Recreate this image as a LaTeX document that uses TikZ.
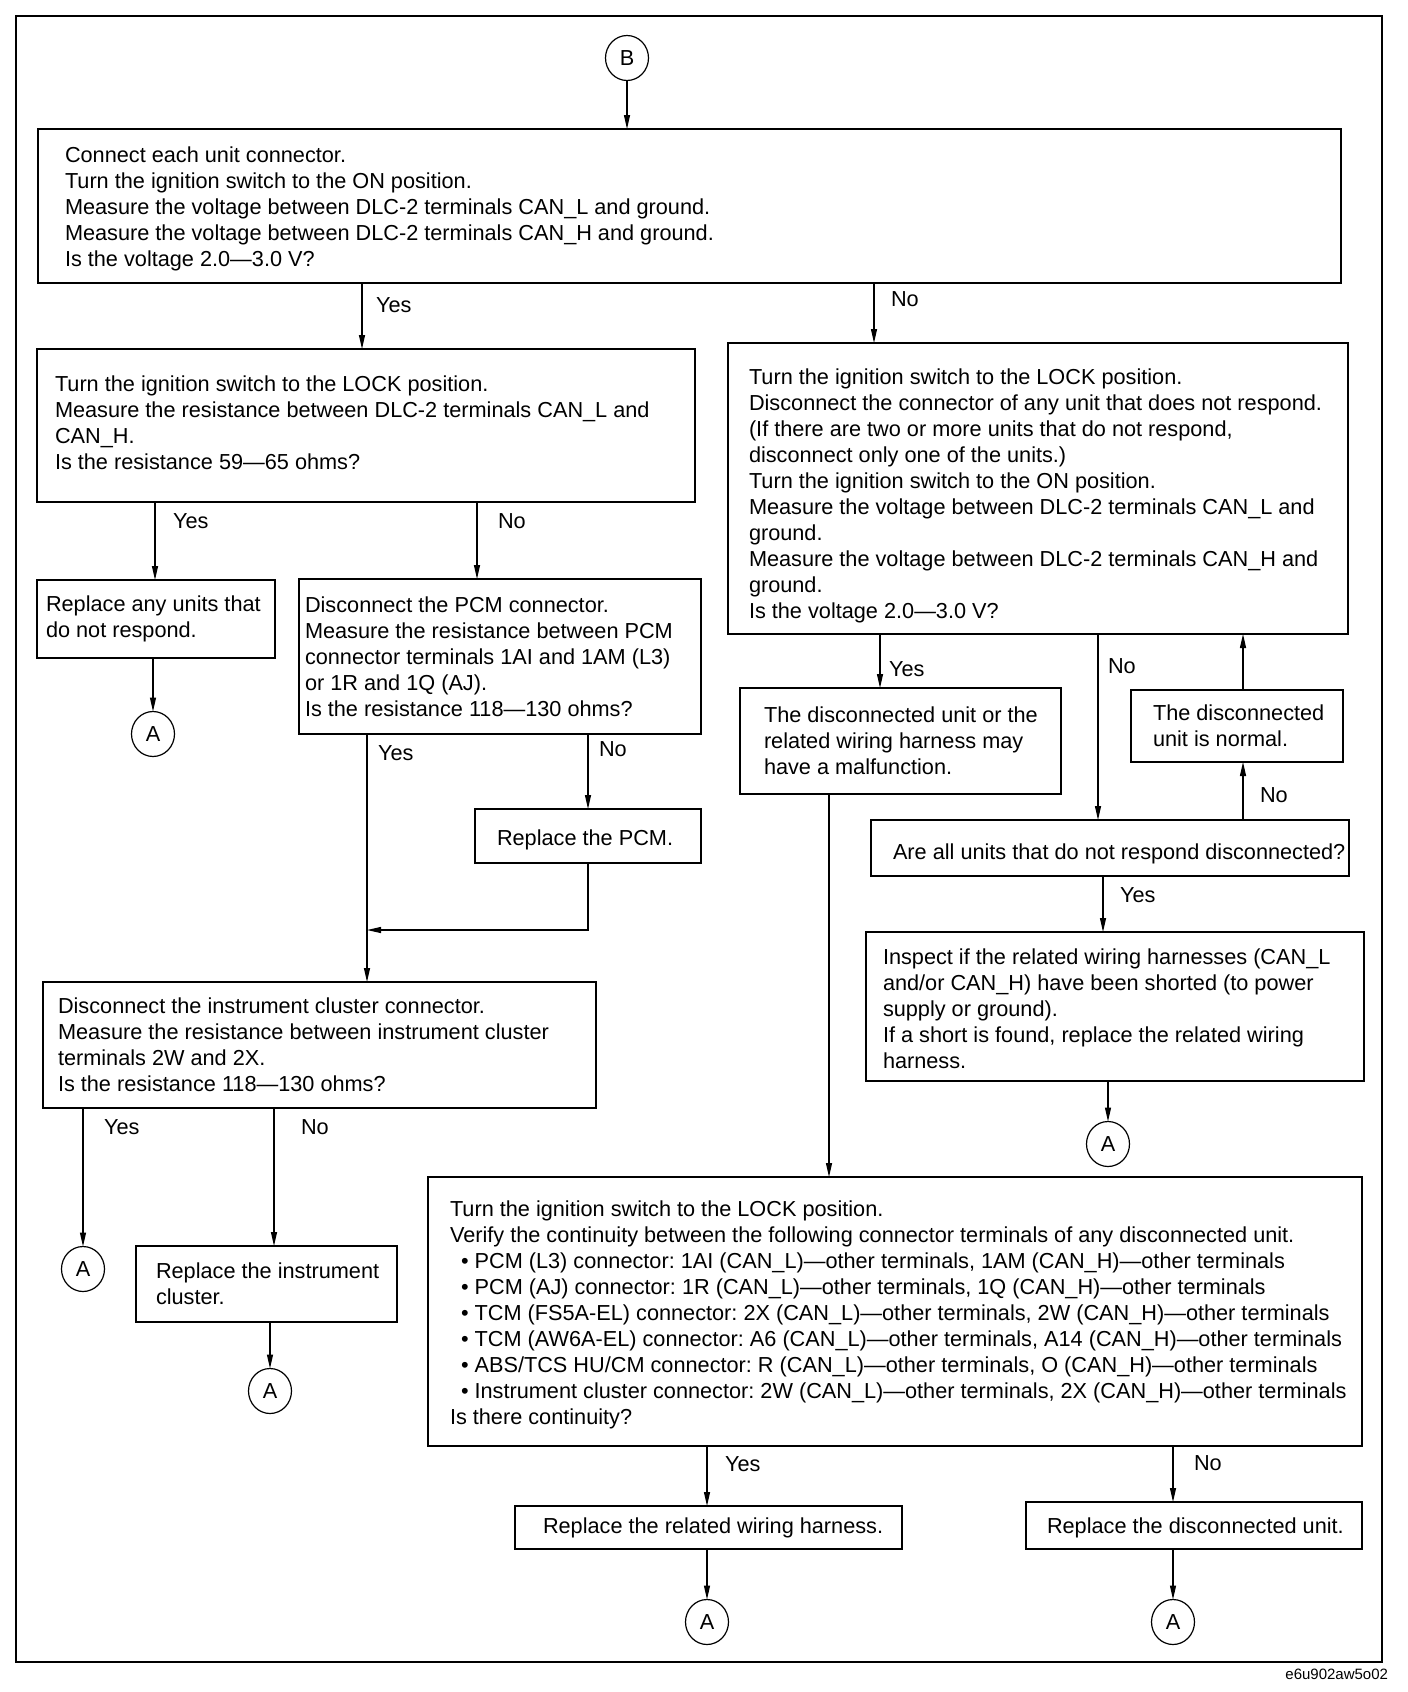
\documentclass[tikz,border=0pt]{standalone}
\usepackage{fontspec}
\setmainfont{Liberation Sans}
\usetikzlibrary{arrows.meta,shapes.geometric,calc}
\frenchspacing
\begin{document}
\begin{tikzpicture}[x=1pt,y=-1pt,
  every node/.style={font=\fontsize{21.7}{26}\selectfont\frenchspacing, inner sep=0pt, outer sep=0pt},
  box/.style={draw, line width=1.4pt, anchor=north west, rectangle, inner sep=0pt},
  txt/.style={anchor=west, align=left},
  lbl/.style={anchor=west},
  conn/.style={ellipse, draw, line width=1.2pt, minimum width=43pt, minimum height=45pt},
  arr/.style={line width=1.2pt, -{Triangle[length=14pt,width=6pt]}},
  ln/.style={line width=1.2pt}]
\useasboundingbox (0,0) rectangle (1408,1692);
\draw[line width=2.2pt] (16,16) rectangle (1382,1662);

% boxes
\node[box, minimum width=1303pt, minimum height=154pt] (b1) at (38,129) {};
\node[box, minimum width=658pt, minimum height=153pt] (b2) at (37,349) {};
\node[box, minimum width=620pt, minimum height=291pt] (b3) at (728,343) {};
\node[box, minimum width=238pt, minimum height=78pt] (b4) at (37,580) {};
\node[box, minimum width=402pt, minimum height=155pt] (b5) at (299,579) {};
\node[box, minimum width=226pt, minimum height=54pt] (pcm) at (475,809) {};
\node[box, minimum width=553pt, minimum height=126pt] (b6) at (43,982) {};
\node[box, minimum width=261pt, minimum height=76pt] (b7) at (136,1246) {};
\node[box, minimum width=321pt, minimum height=106pt] (b8) at (740,688) {};
\node[box, minimum width=934pt, minimum height=269pt] (b9) at (428,1177) {};
\node[box, minimum width=478pt, minimum height=56pt] (b10) at (871,820) {};
\node[box, minimum width=212pt, minimum height=72pt] (b11) at (1131,690) {};
\node[box, minimum width=498pt, minimum height=149pt] (b12) at (866,932) {};
\node[box, minimum width=387pt, minimum height=43pt] (b13) at (515,1506) {};
\node[box, minimum width=336pt, minimum height=47pt] (b14) at (1026,1502) {};

% texts
\node[txt] (t1) at ([xshift=27pt,yshift=-3pt]b1.west) {Connect each unit connector.\\
Turn the ignition switch to the ON position.\\
Measure the voltage between DLC-2 terminals CAN\_L and ground.\\
Measure the voltage between DLC-2 terminals CAN\_H and ground.\\
Is the voltage 2.0—3.0 V?};
\node[txt] (t2) at ([xshift=18pt,yshift=3pt]b2.west) {Turn the ignition switch to the LOCK position.\\
Measure the resistance between DLC-2 terminals CAN\_L and\\
CAN\_H.\\
Is the resistance 59—65 ohms?};
\node[txt] (t3) at ([xshift=21pt,yshift=-7pt]b3.west) {Turn the ignition switch to the LOCK position.\\
Disconnect the connector of any unit that does not respond.\\
(If there are two or more units that do not respond,\\
disconnect only one of the units.)\\
Turn the ignition switch to the ON position.\\
Measure the voltage between DLC-2 terminals CAN\_L and\\
ground.\\
Measure the voltage between DLC-2 terminals CAN\_H and\\
ground.\\
Is the voltage 2.0—3.0 V?};
\node[txt] (t4) at ([xshift=9pt]b4.west) {Replace any units that\\ do not respond.};
\node[txt] (t5) at ([xshift=6pt]b5.west) {Disconnect the PCM connector.\\
Measure the resistance between PCM\\
connector terminals 1AI and 1AM (L3)\\
or 1R and 1Q (AJ).\\
Is the resistance 118—130 ohms?};
\node[txt] (tpcm) at ([xshift=22pt,yshift=-4pt]pcm.west) {Replace the PCM.};
\node[txt] (t6) at ([xshift=15pt]b6.west) {Disconnect the instrument cluster connector.\\
Measure the resistance between instrument cluster\\
terminals 2W and 2X.\\
Is the resistance 118—130 ohms?};
\node[txt] (t7) at ([xshift=20pt]b7.west) {Replace the instrument\\ cluster.};
\node[txt] (t8) at ([xshift=24pt]b8.west) {The disconnected unit or the\\ related wiring harness may\\ have a malfunction.};
\node[txt] (t9) at ([xshift=22pt,yshift=-3pt]b9.west) {Turn the ignition switch to the LOCK position.\\
Verify the continuity between the following connector terminals of any disconnected unit.\\
\hspace*{11pt}• PCM (L3) connector: 1AI (CAN\_L)—other terminals, 1AM (CAN\_H)—other terminals\\
\hspace*{11pt}• PCM (AJ) connector: 1R (CAN\_L)—other terminals, 1Q (CAN\_H)—other terminals\\
\hspace*{11pt}• TCM (FS5A-EL) connector: 2X (CAN\_L)—other terminals, 2W (CAN\_H)—other terminals\\
\hspace*{11pt}• TCM (AW6A-EL) connector: A6 (CAN\_L)—other terminals, A14 (CAN\_H)—other terminals\\
\hspace*{11pt}• ABS/TCS HU/CM connector: R (CAN\_L)—other terminals, O (CAN\_H)—other terminals\\
\hspace*{11pt}• Instrument cluster connector: 2W (CAN\_L)—other terminals, 2X (CAN\_H)—other terminals\\
Is there continuity?};
\node[txt] (t10) at ([xshift=22pt,yshift=-6pt]b10.west) {Are all units that do not respond disconnected?};
\node[txt] (t11) at ([xshift=22pt]b11.west) {The disconnected\\ unit is normal.};
\node[txt] (t12) at ([xshift=17pt,yshift=-2pt]b12.west) {Inspect if the related wiring harnesses (CAN\_L\\
and/or CAN\_H) have been shorted (to power\\
supply or ground).\\
If a short is found, replace the related wiring\\
harness.};
\node[txt] (t13) at ([xshift=28pt]b13.west) {Replace the related wiring harness.};
\node[txt] (t14) at ([xshift=21pt,yshift=-2pt]b14.west) {Replace the disconnected unit.};

% connector circles
\node[conn] (B) at (627,58) {B};
\node[conn] (A1) at (153,734) {A};
\node[conn] (A2) at (83,1269) {A};
\node[conn] (A3) at (270,1391) {A};
\node[conn] (A4) at (1108,1144) {A};
\node[conn] (A5) at (707,1622) {A};
\node[conn] (A6) at (1173,1622) {A};

% x positions of connectors
\coordinate (xa) at (362,0);
\coordinate (xb) at (874,0);
\coordinate (xc) at (155,0);
\coordinate (xd) at (477,0);
\coordinate (xe) at (367,0);
\coordinate (xf) at (588,0);
\coordinate (xg) at (274,0);
\coordinate (xh) at (880,0);
\coordinate (xi) at (1098,0);
\coordinate (xj) at (1243,0);
\coordinate (xk) at (1103,0);
\coordinate (xl) at (829,0);
\coordinate (xm) at (707,0);
\coordinate (xn) at (1173,0);
\coordinate (ym) at (0,930);

% connectors
\draw[arr] (B.south) -- (B.south |- b1.north);
\draw[arr] (xa |- b1.south) -- (xa |- b2.north);
\draw[arr] (xb |- b1.south) -- (xb |- b3.north);
\draw[arr] (xc |- b2.south) -- (xc |- b4.north);
\draw[arr] (xd |- b2.south) -- (xd |- b5.north);
\draw[arr] (A1.north |- b4.south) -- (A1.north);
\draw[arr] (xe |- b5.south) -- (xe |- b6.north);
\draw[arr] (xf |- b5.south) -- (xf |- pcm.north);
\draw[arr] (pcm.south) |- (xe |- ym);
\draw[arr] (A2.north |- b6.south) -- (A2.north);
\draw[arr] (xg |- b6.south) -- (xg |- b7.north);
\draw[arr] (A3.north |- b7.south) -- (A3.north);
\draw[arr] (xh |- b3.south) -- (xh |- b8.north);
\draw[arr] (xi |- b3.south) -- (xi |- b10.north);
\draw[arr] (xj |- b10.north) -- (xj |- b11.south);
\draw[arr] (xj |- b11.north) -- (xj |- b3.south);
\draw[arr] (xk |- b10.south) -- (xk |- b12.north);
\draw[arr] (A4.north |- b12.south) -- (A4.north);
\draw[arr] (xl |- b8.south) -- (xl |- b9.north);
\draw[arr] (xm |- b9.south) -- (xm |- b13.north);
\draw[arr] (xn |- b9.south) -- (xn |- b14.north);
\draw[arr] (A5.north |- b13.south) -- (A5.north);
\draw[arr] (A6.north |- b14.south) -- (A6.north);

% branch labels
\node[lbl] (l1) at (376,305) {Yes};
\node[lbl] (l2) at (891,299) {No};
\node[lbl] (l3) at (173,521) {Yes};
\node[lbl] (l4) at (498,521) {No};
\node[lbl] (l5) at (378,753) {Yes};
\node[lbl] (l6) at (599,749) {No};
\node[lbl] (l7) at (104,1127) {Yes};
\node[lbl] (l8) at (301,1127) {No};
\node[lbl] (l9) at (889,669) {Yes};
\node[lbl] (l10) at (1108,666) {No};
\node[lbl] (l11) at (1260,795) {No};
\node[lbl] (l12) at (1120,895) {Yes};
\node[lbl] (l13) at (725,1464) {Yes};
\node[lbl] (l14) at (1194,1463) {No};

\node[anchor=east, font=\fontsize{15}{18}\selectfont] (cap) at (1388,1674) {e6u902aw5o02};
\end{tikzpicture}
\end{document}
